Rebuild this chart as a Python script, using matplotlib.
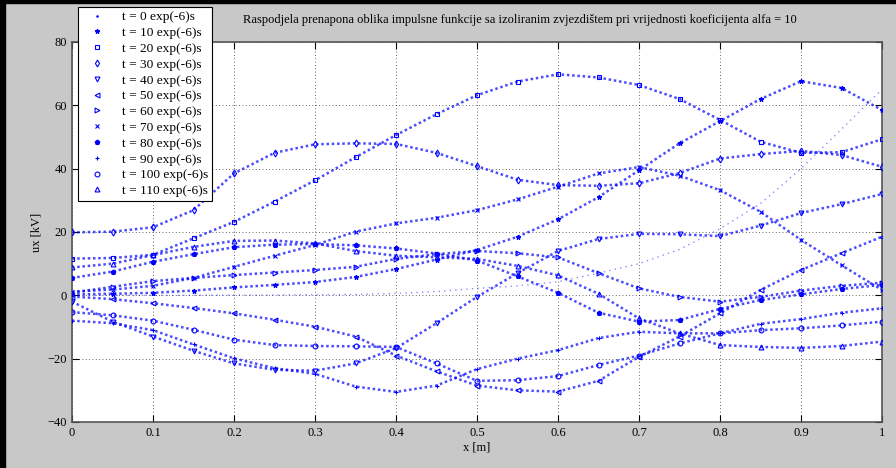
import matplotlib
matplotlib.use('Agg')
import matplotlib.pyplot as plt
from matplotlib.lines import Line2D
from matplotlib.patches import Rectangle

plt.rcParams['font.family'] = ['Liberation Serif', 'DejaVu Serif']

# ---------------- data ----------------
x_m = [0.00, 0.05, 0.10, 0.15, 0.20, 0.25, 0.30, 0.35, 0.40, 0.45, 0.50,
       0.55, 0.60, 0.65, 0.70, 0.75, 0.80, 0.85, 0.90, 0.95, 1.00]

u_t0 = [0.0, 0.0, 0.0, 0.0, 0.1, 0.1, 0.2, 0.3, 0.6, 1.2, 2.2,
        3.0, 4.3, 7.0, 10.0, 14.5, 21.0, 29.0, 40.0, 52.5, 65.0]
u_t10 = [0.3, 0.5, 0.8, 1.5, 2.5, 3.3, 4.2, 5.8, 8.3, 11.3, 14.3,
         18.5, 24.0, 31.0, 39.5, 48.0, 55.0, 62.0, 67.6, 65.5, 58.5]
u_t20 = [11.6, 11.8, 12.8, 18.0, 23.2, 29.6, 36.3, 43.6, 50.6, 57.2, 63.2,
         67.5, 69.8, 68.8, 66.4, 62.0, 55.4, 48.5, 45.0, 45.2, 49.3]
u_t30 = [19.9, 20.1, 21.5, 26.9, 38.5, 45.0, 47.7, 48.0, 47.8, 45.0, 40.8,
         36.5, 34.8, 34.6, 35.4, 38.6, 43.2, 44.6, 45.6, 44.3, 40.6]
u_t40 = [-2.0, -8.3, -13.0, -17.5, -21.5, -23.5, -23.8, -21.5, -16.7, -8.8, -0.5,
         7.0, 14.0, 17.8, 19.4, 19.3, 18.7, 22.0, 26.0, 28.8, 32.0]
u_t50 = [-0.4, -1.2, -2.5, -4.0, -5.7, -7.7, -9.9, -13.0, -19.0, -24.0, -28.5,
         -30.0, -30.4, -27.0, -19.4, -13.0, -5.7, 1.7, 8.0, 13.3, 18.5]
u_t60 = [0.8, 2.7, 4.5, 5.5, 6.4, 7.2, 8.0, 9.0, 11.5, 13.0, 14.0,
         13.3, 12.0, 7.0, 2.2, -0.5, -2.0, -0.5, 1.5, 3.0, 4.0]
u_t70 = [1.2, 1.8, 3.0, 5.5, 9.0, 12.5, 15.9, 20.1, 22.7, 24.5, 26.9,
         30.3, 34.3, 38.5, 40.5, 37.8, 33.2, 26.4, 17.5, 9.5, 1.7]
u_t80 = [5.5, 7.5, 10.6, 13.0, 15.2, 16.0, 16.2, 15.8, 14.8, 13.2, 11.0,
         6.0, 0.8, -5.5, -8.3, -7.8, -4.3, -1.5, 0.3, 2.0, 3.3]
u_t90 = [-8.0, -8.8, -11.0, -15.5, -19.9, -23.0, -24.8, -28.8, -30.5, -28.5, -23.3,
         -20.0, -17.3, -13.5, -11.5, -12.0, -12.0, -9.0, -7.5, -5.5, -4.1]
u_t100 = [-5.3, -6.3, -8.0, -10.9, -14.0, -15.7, -16.0, -16.1, -16.3, -21.5, -27.0,
          -26.8, -25.5, -22.0, -19.0, -15.2, -12.0, -11.0, -10.4, -9.5, -8.3]
u_t110 = [8.8, 10.0, 12.7, 15.3, 17.2, 17.3, 16.4, 14.0, 12.5, 12.0, 11.5,
          9.3, 6.3, 0.5, -7.3, -12.0, -15.7, -16.3, -16.6, -16.0, -14.6]

labels = ['t = 0 exp(-6)s', 't = 10 exp(-6)s', 't = 20 exp(-6)s', 't = 30 exp(-6)s',
          't = 40 exp(-6)s', 't = 50 exp(-6)s', 't = 60 exp(-6)s', 't = 70 exp(-6)s',
          't = 80 exp(-6)s', 't = 90 exp(-6)s', 't = 100 exp(-6)s', 't = 110 exp(-6)s']
series = [u_t0, u_t10, u_t20, u_t30, u_t40, u_t50, u_t60, u_t70, u_t80, u_t90, u_t100, u_t110]

title = ('Raspodjela prenapona oblika impulsne funkcije sa izoliranim zvjezdištem '
         'pri vrijednosti koeficijenta alfa = 10')
x_ticks = [0, 0.1, 0.2, 0.3, 0.4, 0.5, 0.6, 0.7, 0.8, 0.9, 1.0]
x_ticklabels = ['0', '0.1', '0.2', '0.3', '0.4', '0.5', '0.6', '0.7', '0.8', '0.9', '1']
y_ticks = [-40, -20, 0, 20, 40, 60, 80]

# ---------------- styles ----------------
markers = ['.', '*', 's', 'd', 'v', '<', '>', 'x', 'p', '+', 'o', '^']
hollow = {'s', 'd', 'v', '<', '>', 'o', '^'}
blue = '#0000ff'

W, H = 896, 468
fig = plt.figure(figsize=(W / 100, H / 100), dpi=100, facecolor='#c8c8c8')
ax = fig.add_axes([72 / W, 46 / H, 810 / W, 380 / H])
ax.set_facecolor('white')

for u, m in zip(series, markers):
    if m == '.':
        ax.plot(x_m, u, linestyle=(0, (1, 3)), linewidth=1.0, color=blue,
                alpha=0.45, zorder=2)
        continue
    ax.plot(x_m, u, linestyle=(0, (1, 1.1)), linewidth=1.8, color=blue,
            alpha=0.7, zorder=2)
    ax.plot(x_m, u, linestyle='none', marker=m, markersize=3.5,
            markeredgecolor=blue, markeredgewidth=0.8,
            markerfacecolor='none' if m in hollow else blue, zorder=3)

ax.set_xlim(0, 1)
ax.set_ylim(-40, 80)
ax.set_xticks(x_ticks)
ax.set_xticklabels(x_ticklabels)
ax.set_yticks(y_ticks)
ax.tick_params(direction='in', top=True, right=True, length=5, width=0.8,
               labelsize=9, colors='black')
ax.grid(True, linestyle=(0, (1, 3)), color='black', linewidth=0.6, alpha=0.8)
for sp in ax.spines.values():
    sp.set_color('#555555')
    sp.set_linewidth(1.2)
ax.set_xlabel('x [m]', fontsize=9, labelpad=2)
ax.set_ylabel('ux [kV]', fontsize=9, labelpad=4)

fig.text(520 / W, 1 - 20 / H, title, ha='center', va='center', fontsize=9)

handles = []
for m in markers:
    handles.append(Line2D([], [], linestyle='none', marker=m,
                          markersize=2 if m == '.' else 3.5,
                          markeredgecolor=blue, markeredgewidth=0.8,
                          markerfacecolor='none' if m in hollow else blue))
leg = fig.legend(handles, labels, loc='upper left',
                 bbox_to_anchor=(78 / W, 1 - 7 / H), bbox_transform=fig.transFigure,
                 fontsize=9.6, frameon=True, fancybox=False, framealpha=1,
                 edgecolor='black', facecolor='white', handlelength=2.2,
                 handletextpad=0.8, labelspacing=0.26, borderpad=0.3,
                 borderaxespad=0)
leg.get_frame().set_linewidth(0.8)

fig.patches.append(Rectangle((0, 0), 5 / W, 1, transform=fig.transFigure,
                             color='black', zorder=10))
fig.patches.append(Rectangle((0, 1 - 3 / H), 1, 3 / H, transform=fig.transFigure,
                             color='black', zorder=10))

fig.savefig('out.png', dpi=100, facecolor=fig.get_facecolor())
